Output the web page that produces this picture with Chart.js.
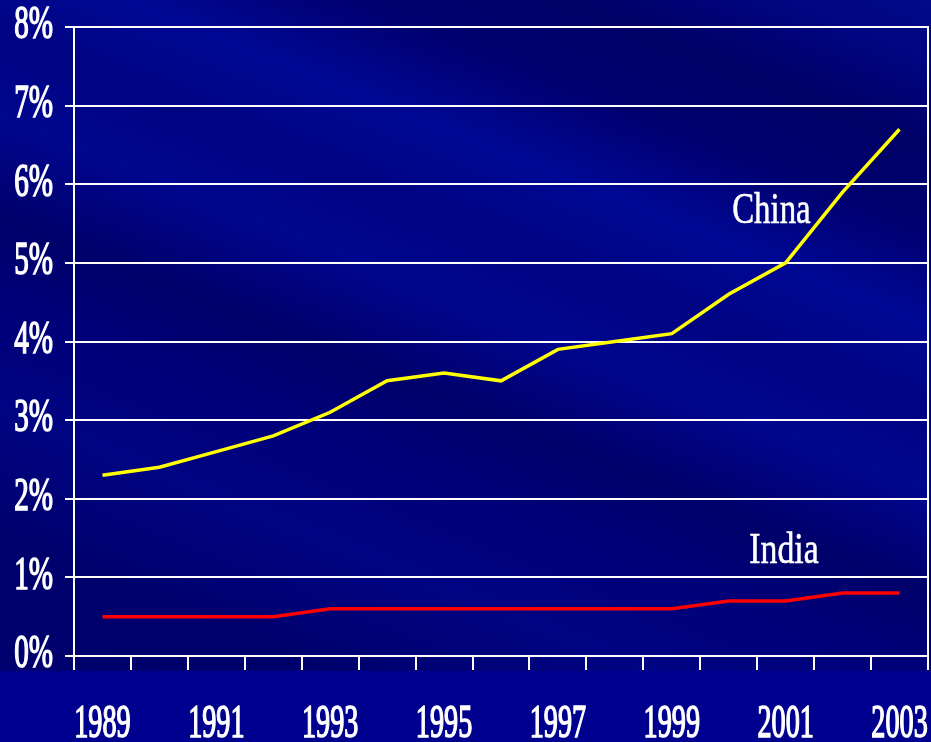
<!DOCTYPE html>
<html>
<head>
<meta charset="utf-8">
<script src="https://cdn.jsdelivr.net/npm/chart.js@4/dist/chart.umd.min.js"></script>
<style>
  html, body { margin: 0; padding: 0; }
  body {
    width: 931px; height: 742px; overflow: hidden;
    background:
      linear-gradient(to bottom, transparent 671px, #00008e 671px),
      linear-gradient(22deg,
        #000070 0%, #00006c 18%, #000482 30%, #000078 40%, #00006a 47%,
        #00068e 56%, #000482 63%, #000894 71%, #000070 79%, #000066 87%,
        #000580 94%, #030a88 100%);
  }
</style>
</head>
<body>
<canvas id="shareChart" width="931" height="742"></canvas>
<script>
const years = ['1989', '1990', '1991', '1992', '1993', '1994', '1995', '1996',
               '1997', '1998', '1999', '2000', '2001', '2002', '2003'];
const chinaShare = [2.3, 2.4, 2.6, 2.8, 3.1, 3.5, 3.6, 3.5, 3.9, 4.0, 4.1, 4.6, 5.0, 5.9, 6.7];
const indiaShare = [0.5, 0.5, 0.5, 0.5, 0.6, 0.6, 0.6, 0.6, 0.6, 0.6, 0.6, 0.7, 0.7, 0.8, 0.8];
const yTicks = [0, 1, 2, 3, 4, 5, 6, 7, 8];

// draw text squeezed horizontally (the original uses a condensed serif),
// with a thin outline to give it some weight
const squeezeText = (ctx, text, x, y, sx, align, weight) => {
    ctx.save();
    ctx.translate(x, y);
    ctx.scale(sx, 1);
    ctx.textAlign = align;
    ctx.fillText(text, 0, 0);
    if (weight) {
        ctx.lineWidth = weight;
        ctx.strokeText(text, 0, 0);
    }
    ctx.restore();
};

const labelPlugin = {
    id: 'labels',
    afterDraw(chart) {
        const ctx = chart.ctx;
        const xs = chart.scales.x;
        const ys = chart.scales.y;
        ctx.save();
        ctx.fillStyle = '#ffffff';
        ctx.strokeStyle = '#ffffff';

        ctx.font = '47px "Liberation Serif"';
        ctx.textBaseline = 'middle';
        yTicks.forEach(v => {
            squeezeText(ctx, v + '%', 53, ys.getPixelForValue(v) - 1, 0.62, 'right', 1.6);
        });

        ctx.textBaseline = 'alphabetic';
        years.forEach((yr, i) => {
            if (i % 2 === 0) {
                squeezeText(ctx, yr, xs.getPixelForValue(i), ys.bottom + 81, 0.6, 'center', 1.6);
            }
        });

        ctx.font = '45px "Liberation Serif"';
        squeezeText(ctx, 'China', xs.getPixelForValue(11.75), ys.getPixelForValue(5.51), 0.73, 'center', 0.6);
        squeezeText(ctx, 'India', xs.getPixelForValue(11.97), ys.getPixelForValue(1.18), 0.75, 'center', 0.6);
        ctx.restore();
    }
};

new Chart(document.getElementById('shareChart'), {
    type: 'line',
    data: {
        labels: years,
        datasets: [
            {
                label: 'China',
                data: chinaShare,
                borderColor: '#ffff00',
                borderWidth: 3.5,
                pointRadius: 0,
                tension: 0
            },
            {
                label: 'India',
                data: indiaShare,
                borderColor: '#ff0000',
                borderWidth: 3.5,
                pointRadius: 0,
                tension: 0
            }
        ]
    },
    options: {
        responsive: false,
        animation: false,
        layout: { padding: { top: 27, right: 1, left: 0, bottom: 0 } },
        plugins: {
            legend: { display: false },
            tooltip: { enabled: false }
        },
        scales: {
            x: {
                offset: true,
                grid: {
                    offset: true,
                    drawOnChartArea: false,
                    color: '#ffffff',
                    lineWidth: 2,
                    tickLength: 14
                },
                border: { color: '#ffffff', width: 2 },
                ticks: { display: false },
                afterFit: (s) => { s.height = 86; }
            },
            y: {
                min: 0,
                max: 8,
                ticks: { display: false, stepSize: 1 },
                grid: {
                    color: '#ffffff',
                    lineWidth: 2,
                    tickLength: 9
                },
                border: { color: '#ffffff', width: 2 },
                afterFit: (s) => { s.width = 74; }
            },
            y2: {
                position: 'right',
                min: 0,
                max: 8,
                ticks: { display: false },
                grid: { display: false },
                border: { color: '#ffffff', width: 2 },
                afterFit: (s) => { s.width = 2; }
            }
        }
    },
    plugins: [labelPlugin]
});
</script>
</body>
</html>
